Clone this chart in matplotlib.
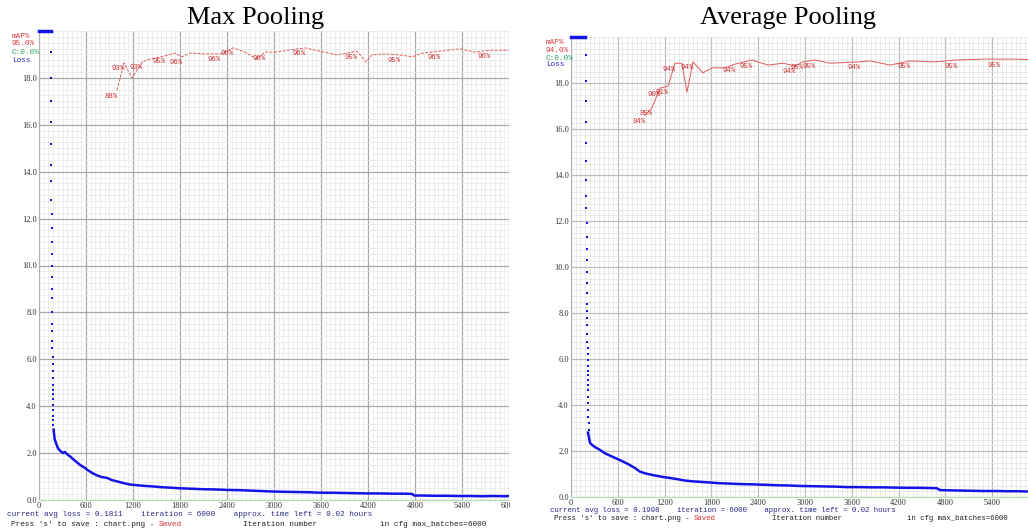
import numpy as np
import matplotlib
matplotlib.use('Agg')
import matplotlib.pyplot as plt
from matplotlib.transforms import Bbox

# ---- data ----
titles = ['Max Pooling', 'Average Pooling']
x_ticks = [0, 600, 1200, 1800, 2400, 3000, 3600, 4200, 4800, 5400, 6000]
y_ticks = [0.0, 2.0, 4.0, 6.0, 8.0, 10.0, 12.0, 14.0, 16.0, 18.0]

# loss above the chart top (clipped) during the first iterations
left_clip_iters = [0, 150]
right_clip_iters = [0, 180]

# the first iterations: one dot per iteration, loss falling fast
left_burst_start = 152
left_burst_loss = [19.1, 18.0, 17.0, 16.1, 15.2, 14.3, 13.6, 12.8, 12.2, 11.6,
                   11.0, 10.5, 10.0, 9.5, 9.0, 8.6, 8.0, 7.5, 7.2, 6.8, 6.5,
                   6.1, 5.8, 5.5, 5.2, 4.9, 4.7, 4.5, 4.3, 4.05, 3.85, 3.6,
                   3.4, 3.2, 3.0]
right_burst_start = 190
right_burst_loss = [19.2, 18.1, 17.2, 16.3, 15.4, 14.6, 13.8, 13.1, 12.55, 11.9,
                    11.3, 10.8, 10.3, 9.8, 9.3, 8.85, 8.4, 8.1, 7.8, 7.5, 7.1,
                    6.75, 6.5, 6.2, 5.96, 5.7, 5.5, 5.3, 5.1, 4.87, 4.65, 4.36,
                    4.07, 3.78, 3.5, 3.2, 2.9]

left_iters = [186, 200, 220, 243, 270, 306, 330, 360, 400, 450, 523, 580, 620,
              680, 740, 800, 870, 930, 1000, 1080, 1162, 1250, 1350, 1450, 1550,
              1650, 1800, 1950, 2100, 2250, 2400, 2550, 2700, 2850, 3000, 3150,
              3300, 3450, 3600, 3750, 3900, 4050, 4200, 4350, 4500, 4650, 4760,
              4790, 4900, 5050, 5200, 5350, 5500, 5650, 5800, 5950, 6000]
left_loss = [3.0, 2.6, 2.4, 2.2, 2.1, 2.0, 2.05, 1.95, 1.85, 1.7, 1.5, 1.38, 1.28,
             1.15, 1.05, 0.98, 0.94, 0.85, 0.79, 0.72, 0.66, 0.63, 0.60, 0.58,
             0.55, 0.53, 0.50, 0.48, 0.46, 0.45, 0.43, 0.42, 0.40, 0.38, 0.36,
             0.35, 0.34, 0.33, 0.31, 0.31, 0.30, 0.29, 0.28, 0.28, 0.27, 0.27,
             0.26, 0.19, 0.19, 0.18, 0.18, 0.17, 0.17, 0.16, 0.17, 0.16, 0.17]

right_iters = [218, 244, 275, 308, 370, 436, 500, 564, 630, 692, 760, 820, 885,
               960, 1040, 1100, 1179, 1260, 1359, 1450, 1560, 1650, 1782, 1900,
               2050, 2200, 2333, 2500, 2650, 2800, 2936, 3100, 3250, 3400, 3538,
               3700, 3850, 4000, 4128, 4300, 4450, 4600, 4692, 4731, 4850, 5000,
               5150, 5282, 5450, 5600, 5750, 5846, 6000]
right_loss = [2.8, 2.35, 2.25, 2.17, 2.05, 1.9, 1.8, 1.7, 1.6, 1.5, 1.38, 1.26,
              1.1, 1.02, 0.96, 0.92, 0.87, 0.83, 0.78, 0.72, 0.68, 0.66, 0.63,
              0.6, 0.58, 0.56, 0.55, 0.53, 0.51, 0.5, 0.48, 0.47, 0.46, 0.45,
              0.43, 0.43, 0.42, 0.42, 0.41, 0.40, 0.40, 0.39, 0.38, 0.30, 0.29,
              0.28, 0.27, 0.26, 0.26, 0.25, 0.25, 0.24, 0.24]

# mAP (%) at each evaluation, and the text darknet printed next to it
left_map_iters = [996, 1085, 1187, 1315, 1417, 1609, 1736, 1826, 1928, 2119,
                  2311, 2477, 2630, 2783, 2885, 3013, 3396, 3587, 3804, 4060,
                  4174, 4251, 4417, 4609, 4762, 4902, 5119, 5374, 5566, 5757,
                  6000]
left_map = [87.4, 93.2, 90.0, 93.4, 94.0, 94.7, 95.3, 94.5, 95.3, 95.1, 95.1,
            96.4, 95.5, 94.0, 95.5, 95.5, 96.4, 95.7, 94.9, 95.7, 93.4, 94.9,
            95.1, 94.9, 94.5, 95.3, 95.7, 96.2, 95.5, 95.9, 95.9]
left_map_text = ['88%', '93%', '', '93%', '', '95%', '', '96%', '', '', '96%',
                 '96%', '', '', '96%', '', '96%', '', '', '95%', '', '', '',
                 '95%', '', '', '96%', '', '', '96%', '']

right_map_iters = [949, 1038, 1141, 1244, 1333, 1423, 1487, 1564, 1692, 1808,
                   1974, 2103, 2321, 2526, 2718, 2872, 2974, 3128, 3321, 3705,
                   3833, 4090, 4346, 4667, 4949, 5308, 5500, 5692, 6000]
right_map = [83.0, 84.6, 88.9, 89.3, 94.3, 94.3, 88.0, 94.6, 92.2, 93.3, 93.3,
             94.1, 95.0, 93.9, 94.3, 93.7, 94.6, 95.0, 94.3, 94.6, 94.8, 93.9,
             94.8, 94.6, 95.0, 95.2, 95.2, 95.2, 95.0]
right_map_text = ['84%', '85%', '90%', '91%', '94%', '', '', '94%', '', '', '',
                  '94%', '95%', '', '', '94%', '95%', '95%', '', '94%', '', '',
                  '95%', '', '95%', '', '95%', '', '']

left_info = dict(best='95.0%', avg_loss='0.1811')
right_info = dict(best='94.0%', avg_loss='0.1998')

W, H = 1028, 532
fig = plt.figure(figsize=(W / 100, H / 100), dpi=100)

def px(x, y):
  return x / W, 1 - y / H

def panel(rect, clip_iters, burst_start, burst_loss, iters, loss,
          map_iters, maps, map_text, dashed, major_c, minor_c, crop_x):
  ax = fig.add_axes(rect)
  ax.set_xlim(0, 6000)
  ax.set_ylim(0, 20)
  ax.set_xticks(x_ticks)
  ax.set_xticklabels([str(t) for t in x_ticks])
  ax.set_yticks(y_ticks)
  ax.set_yticklabels(['%.1f' % t for t in y_ticks])
  ax.set_xticks(np.arange(0, 6001, 60), minor=True)
  ax.set_yticks(np.arange(0, 20.01, 0.25), minor=True)
  ax.grid(which='minor', color=minor_c, lw=0.5)
  ax.grid(which='major', color=major_c, lw=0.9)
  ax.set_axisbelow(True)
  ax.tick_params(which='both', length=0)
  ax.tick_params(axis='both', pad=1.5, labelsize=6, labelcolor='#333333')
  # the screenshot is cropped just past the last gridline
  crop = Bbox.from_extents(0, 0, crop_x, H)
  for lab in ax.get_xticklabels() + ax.get_yticklabels():
    lab.set_fontfamily('Liberation Serif')
    lab.set_clip_on(True)
    lab.set_clip_box(crop)
  for s in ['top', 'right']:
    ax.spines[s].set_visible(False)
  ax.spines['left'].set_color('#b0b0b0')
  ax.spines['bottom'].set_color('#b8dcb8')

  blue = '#1414e6'
  ax.plot(clip_iters, [20, 20], color=blue, lw=2.5, clip_on=False, zorder=3)
  bx = burst_start + np.arange(len(burst_loss))
  ax.plot(bx, burst_loss, 's', color=blue, ms=1.5, mew=0, zorder=3)
  ax.plot(iters, loss, color=blue, lw=1.8, zorder=3)

  ax2 = ax.twinx()
  ax2.set_ylim(0, 100)
  ax2.axis('off')
  ls = (0, (3, 1.5)) if dashed else '-'
  ax2.plot(map_iters, maps, color='#e05a5a', lw=0.7, ls=ls)
  for it, m, t in zip(map_iters, maps, map_text):
    if t:
      ax2.annotate(t, (it, m), xytext=(1, -6), textcoords='offset pixels',
                   ha='right', va='center', fontsize=5.2, color='#cc3333',
                   family='Liberation Mono')
  return ax

panel([39 / W, 1 - 500 / H, 470 / W, 469 / H], left_clip_iters,
      left_burst_start, left_burst_loss, left_iters, left_loss,
      left_map_iters, left_map, left_map_text, True, '#a8a8a8', '#e8e8e8', 510)
panel([571 / W, 1 - 497 / H, 468 / W, 460 / H], right_clip_iters,
      right_burst_start, right_burst_loss, right_iters, right_loss,
      right_map_iters, right_map, right_map_text, False, '#bdbdbd', '#e2e2e2',
      W)

# titles
for t, cx in zip(titles, [256, 788]):
  fig.text(*px(cx, 18), t, ha='center', va='center', fontsize=19,
           family='Liberation Serif')

# darknet legend in the top-left corner of each chart
def legend(x, ys, info):
  kw = dict(fontsize=5.6, family='Liberation Mono', va='center', ha='left')
  fig.text(*px(x, ys[0]), 'mAP%', color='#d83a3a', **kw)
  fig.text(*px(x, ys[1]), info['best'], color='#d83a3a', **kw)
  fig.text(*px(x, ys[2]), 'C:0.0%', color='#2ea060', **kw)
  fig.text(*px(x, ys[3]), 'Loss', color='#2a2ad8', **kw)

legend(12, [36, 44, 53, 61], left_info)
legend(546, [42, 50, 58, 65], right_info)

# status lines under each chart
def footer(x0, y1, y2, xi, xc, info, size):
  kw = dict(fontsize=size, family='Liberation Mono', va='center', ha='left')
  fig.text(*px(x0, y1), 'current avg loss = %s    iteration = 6000    '
           'approx. time left = 0.02 hours' % info['avg_loss'],
           color='#2a2a8a', **kw)
  t = fig.text(*px(x0 + 4, y2), "Press 's' to save : chart.png - ",
               color='#222222', **kw)
  fig.canvas.draw()
  bb = t.get_window_extent()
  fig.text(bb.x1 / W, 1 - y2 / H, 'Saved', color='#e03030', **kw)
  fig.text(*px(xi, y2), 'Iteration number', color='#222222', **kw)
  fig.text(*px(xc, y2), 'in cfg max_batches=6000', color='#222222', **kw)

footer(7, 515, 524, 243, 380, left_info, 5.6)
footer(550, 510, 518, 772, 907, right_info, 5.3)

fig.savefig('out.png', dpi=100)
